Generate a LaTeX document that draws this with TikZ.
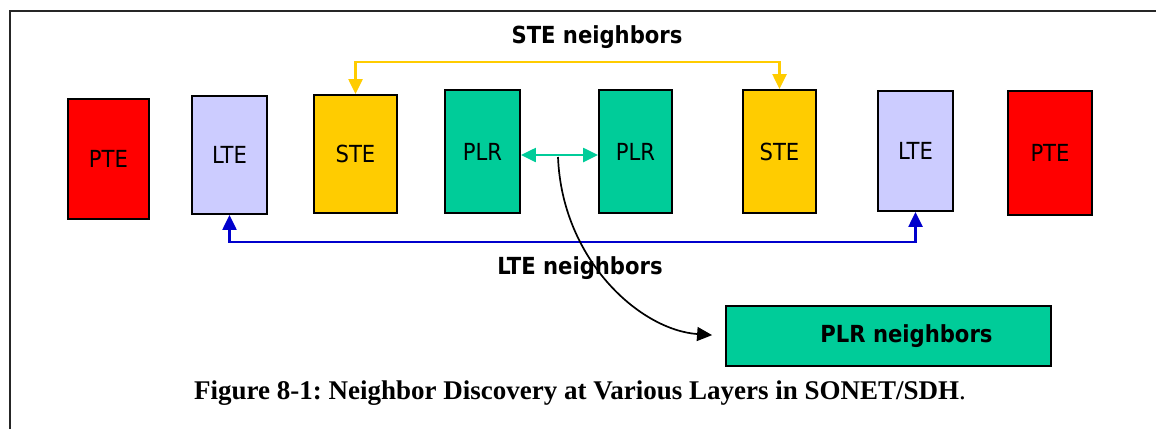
\documentclass[tikz,border=0pt]{standalone}
\usepackage{fontspec}
\setmainfont{Liberation Serif}
\newfontfamily\boxfont{DejaVu Sans Condensed}
\usetikzlibrary{arrows.meta}
\frenchspacing
\definecolor{pteRed}{HTML}{FF0000}
\definecolor{lteBlue}{HTML}{CCCCFF}
\definecolor{steYellow}{HTML}{FFCC00}
\definecolor{plrGreen}{HTML}{00CC99}
\definecolor{linkBlue}{HTML}{0000CC}
\tikzset{
  layerbox/.style={draw=black, line width=1.9pt, inner sep=0pt,
    font=\boxfont\fontsize{23.5}{27}\selectfont},
  ptebox/.style={layerbox, fill=pteRed},
  ltebox/.style={layerbox, fill=lteBlue},
  stebox/.style={layerbox, fill=steYellow},
  plrbox/.style={layerbox, fill=plrGreen},
  tag/.style={font=\boxfont\bfseries\fontsize{23.5}{27}\selectfont},
  tip/.style={-{Triangle[length=15pt,width=14pt]}},
  tips/.style={{Triangle[length=15pt,width=14pt]}-{Triangle[length=15pt,width=14pt]}},
  link/.style={line width=2.4pt},
}
\begin{document}
\begin{tikzpicture}[x=1pt,y=-1pt]
\useasboundingbox (0,0) rectangle (1156,429);
% page frame
\draw[line width=1.6pt, black!85] (10,429) -- (10,11) -- (1156,11);

% layer boxes
\node[ptebox, minimum width=81pt, minimum height=120pt] (pte1) at (108.5,159) {PTE};
\node[ltebox, minimum width=75pt, minimum height=118pt] (lte1) at (229.5,155) {LTE};
\node[stebox, minimum width=83pt, minimum height=118pt] (ste1) at (355.5,154) {STE};
\node[plrbox, minimum width=75pt, minimum height=123pt] (plr1) at (482.5,151.5) {PLR};
\node[plrbox, minimum width=73pt, minimum height=123pt] (plr2) at (635.5,151.5) {PLR};
\node[stebox, minimum width=73pt, minimum height=123pt] (ste2) at (779.5,151.5) {STE};
\node[ltebox, minimum width=75pt, minimum height=120pt] (lte2) at (915.5,151) {LTE};
\node[ptebox, minimum width=84pt, minimum height=124pt] (pte2) at (1050,153) {PTE};

% STE neighbours
\draw[steYellow, link, tips] (ste1.north) -- (ste1.north |- 0,62) -| (ste2.north);
\node[tag] (stelabel) at (597,37) {STE neighbors};

% LTE neighbours
\draw[linkBlue, link, tips] (lte1.south) -- (lte1.south |- 0,242) -| (lte2.south);
\node[tag] (ltelabel) at (580,268) {LTE neighbors};

% PLR neighbours
\draw[plrGreen, link, tips] (plr1.east |- 0,155) -- (plr2.west |- 0,155);
\node[plrbox, minimum width=325pt, minimum height=60pt,
  label={[tag, xshift=18pt]center:PLR neighbors}] (plrn) at (888.5,336) {};
\coordinate (bend) at (558,157);
\draw[black, line width=1.7pt, tip, shorten >=13pt] (bend) .. controls (562,260) and (640,330) .. (plrn.west);

% caption
\node[font=\fontsize{27}{31}\selectfont] (caption) at (580,393)
  {\textbf{Figure 8-1: Neighbor Discovery at Various Layers in SONET/SDH}.};
\end{tikzpicture}
\end{document}
